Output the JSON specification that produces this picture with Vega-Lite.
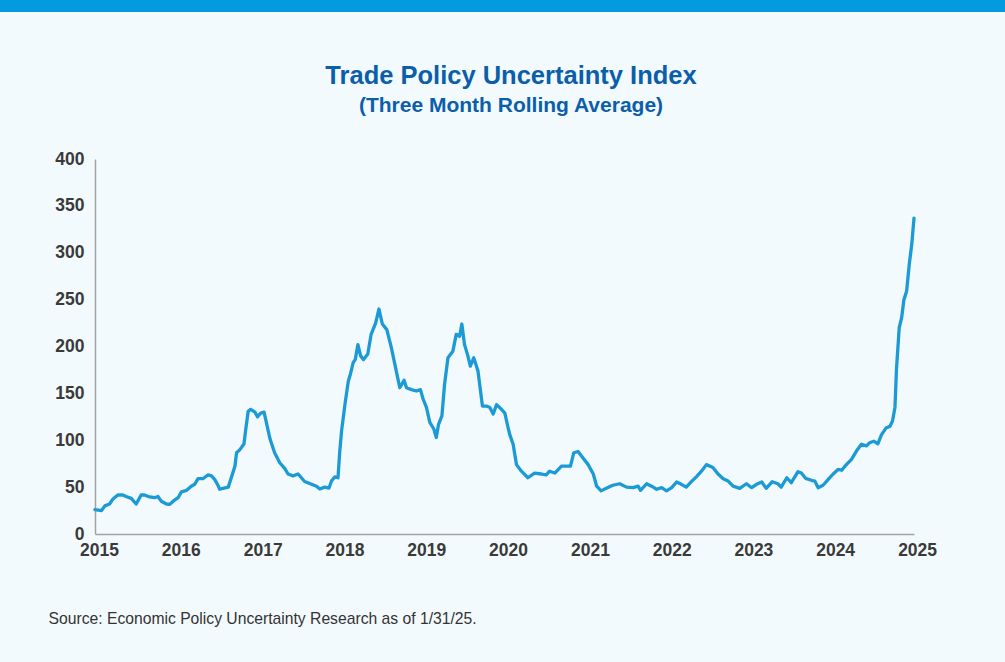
{
  "$schema": "https://vega.github.io/schema/vega-lite/v6.json",
  "background": "#f3fafd",
  "padding": {"left": 0, "top": 0, "right": 0, "bottom": 40},
  "spacing": 51,
  "config": {
    "view": {"stroke": null},
    "font": "Liberation Sans",
    "axis": {"grid": false, "ticks": false, "tickSize": 0, "domainColor": "#a3a3a3", "domainWidth": 1.5, "labelFont": "Liberation Sans", "labelFontWeight": "bold", "labelFontSize": 17.5, "labelColor": "#3a3a3a"}
  },
  "vconcat": [
    {
      "width": 1005,
      "height": 12,
      "view": {"fill": "#039be0", "stroke": null},
      "data": {"values": [{}]},
      "mark": {"type": "text", "text": " "}
    },
    {
      "width": 914,
      "height": 375,
      "title": {
        "text": "Trade Policy Uncertainty Index",
        "subtitle": "(Three Month Rolling Average)",
        "anchor": "middle",
        "dx": 54,
        "font": "Liberation Sans",
        "fontSize": 25.5,
        "fontWeight": "bold",
        "color": "#0b5eaa",
        "subtitleFont": "Liberation Sans",
        "subtitleFontSize": 21,
        "subtitleFontWeight": "bold",
        "subtitleColor": "#0b5eaa",
        "subtitlePadding": 6,
        "offset": 34
      },
      "data": {"values": [
        {"date": "2015-01-01", "v": 26}, {"date": "2015-01-30", "v": 25}, {"date": "2015-02-14", "v": 30}, {"date": "2015-03-07", "v": 32}, {"date": "2015-03-21", "v": 37}, {"date": "2015-04-13", "v": 41.6}, {"date": "2015-05-05", "v": 41.6}, {"date": "2015-05-20", "v": 40}, {"date": "2015-06-12", "v": 38}, {"date": "2015-07-04", "v": 32}, {"date": "2015-07-26", "v": 41.6}, {"date": "2015-08-10", "v": 41.6}, {"date": "2015-09-02", "v": 39.5}, {"date": "2015-09-24", "v": 38.7}, {"date": "2015-10-09", "v": 40}, {"date": "2015-10-24", "v": 35}, {"date": "2015-11-16", "v": 32}, {"date": "2015-12-01", "v": 31.6}, {"date": "2015-12-16", "v": 35},
        {"date": "2016-01-07", "v": 38.7}, {"date": "2016-01-22", "v": 45}, {"date": "2016-02-14", "v": 46.6}, {"date": "2016-03-06", "v": 51}, {"date": "2016-03-21", "v": 53}, {"date": "2016-04-05", "v": 59}, {"date": "2016-04-27", "v": 59}, {"date": "2016-05-19", "v": 63}, {"date": "2016-06-04", "v": 62}, {"date": "2016-06-19", "v": 58}, {"date": "2016-07-03", "v": 52}, {"date": "2016-07-11", "v": 47.7}, {"date": "2016-07-26", "v": 48.7}, {"date": "2016-08-18", "v": 50}, {"date": "2016-09-02", "v": 61}, {"date": "2016-09-17", "v": 72.5}, {"date": "2016-09-24", "v": 86.7}, {"date": "2016-10-09", "v": 90}, {"date": "2016-10-27", "v": 96}, {"date": "2016-11-05", "v": 113}, {"date": "2016-11-15", "v": 131}, {"date": "2016-11-26", "v": 133}, {"date": "2016-12-15", "v": 130}, {"date": "2016-12-27", "v": 125},
        {"date": "2017-01-10", "v": 129}, {"date": "2017-01-25", "v": 130}, {"date": "2017-02-06", "v": 117}, {"date": "2017-02-21", "v": 101}, {"date": "2017-03-13", "v": 86.7}, {"date": "2017-04-05", "v": 76}, {"date": "2017-04-27", "v": 70}, {"date": "2017-05-12", "v": 64}, {"date": "2017-06-03", "v": 62}, {"date": "2017-06-26", "v": 64}, {"date": "2017-07-25", "v": 56}, {"date": "2017-08-25", "v": 53}, {"date": "2017-09-16", "v": 51}, {"date": "2017-10-01", "v": 48}, {"date": "2017-10-23", "v": 50}, {"date": "2017-11-11", "v": 49}, {"date": "2017-11-22", "v": 56.5}, {"date": "2017-12-07", "v": 61}, {"date": "2017-12-21", "v": 60}, {"date": "2017-12-29", "v": 88.5},
        {"date": "2018-01-06", "v": 110}, {"date": "2018-01-21", "v": 138}, {"date": "2018-02-05", "v": 163}, {"date": "2018-02-15", "v": 171}, {"date": "2018-02-27", "v": 183}, {"date": "2018-03-08", "v": 186}, {"date": "2018-03-20", "v": 202}, {"date": "2018-04-01", "v": 190}, {"date": "2018-04-14", "v": 186}, {"date": "2018-05-03", "v": 192}, {"date": "2018-05-18", "v": 213}, {"date": "2018-06-07", "v": 225}, {"date": "2018-06-22", "v": 240}, {"date": "2018-07-07", "v": 224}, {"date": "2018-07-27", "v": 218}, {"date": "2018-08-16", "v": 199}, {"date": "2018-09-01", "v": 181}, {"date": "2018-09-23", "v": 156}, {"date": "2018-10-12", "v": 164}, {"date": "2018-10-23", "v": 156}, {"date": "2018-11-14", "v": 154}, {"date": "2018-12-06", "v": 152.5}, {"date": "2018-12-24", "v": 154},
        {"date": "2019-01-05", "v": 144}, {"date": "2019-01-20", "v": 135}, {"date": "2019-02-04", "v": 119}, {"date": "2019-02-22", "v": 112}, {"date": "2019-03-05", "v": 103}, {"date": "2019-03-15", "v": 117}, {"date": "2019-03-30", "v": 126}, {"date": "2019-04-11", "v": 160}, {"date": "2019-04-26", "v": 188}, {"date": "2019-05-18", "v": 195}, {"date": "2019-06-02", "v": 213}, {"date": "2019-06-17", "v": 211}, {"date": "2019-06-27", "v": 224}, {"date": "2019-07-09", "v": 202}, {"date": "2019-07-24", "v": 190}, {"date": "2019-08-04", "v": 179}, {"date": "2019-08-19", "v": 188}, {"date": "2019-09-07", "v": 174}, {"date": "2019-09-27", "v": 136.5}, {"date": "2019-10-15", "v": 136.5}, {"date": "2019-10-30", "v": 135}, {"date": "2019-11-14", "v": 128}, {"date": "2019-11-29", "v": 138}, {"date": "2019-12-21", "v": 133},
        {"date": "2020-01-05", "v": 129}, {"date": "2020-01-20", "v": 113}, {"date": "2020-01-27", "v": 106}, {"date": "2020-02-11", "v": 95.7}, {"date": "2020-02-26", "v": 74}, {"date": "2020-03-19", "v": 67}, {"date": "2020-04-17", "v": 60}, {"date": "2020-05-17", "v": 65}, {"date": "2020-06-16", "v": 64}, {"date": "2020-07-08", "v": 63}, {"date": "2020-07-23", "v": 67}, {"date": "2020-08-15", "v": 65}, {"date": "2020-09-14", "v": 72.5}, {"date": "2020-10-06", "v": 72.5}, {"date": "2020-10-24", "v": 72.5}, {"date": "2020-11-08", "v": 86.7}, {"date": "2020-11-27", "v": 88}, {"date": "2020-12-19", "v": 81},
        {"date": "2021-01-11", "v": 74}, {"date": "2021-02-03", "v": 64}, {"date": "2021-02-18", "v": 51}, {"date": "2021-03-10", "v": 46}, {"date": "2021-04-02", "v": 48.7}, {"date": "2021-05-01", "v": 52}, {"date": "2021-06-01", "v": 53.6}, {"date": "2021-07-01", "v": 50}, {"date": "2021-07-31", "v": 49.4}, {"date": "2021-08-22", "v": 51}, {"date": "2021-09-02", "v": 46.6}, {"date": "2021-09-29", "v": 53.6}, {"date": "2021-10-21", "v": 51}, {"date": "2021-11-13", "v": 47.7}, {"date": "2021-12-05", "v": 49.4}, {"date": "2021-12-27", "v": 46},
        {"date": "2022-01-19", "v": 49.4}, {"date": "2022-02-10", "v": 55.5}, {"date": "2022-03-03", "v": 53}, {"date": "2022-03-25", "v": 50}, {"date": "2022-04-17", "v": 55.8}, {"date": "2022-05-09", "v": 61}, {"date": "2022-06-01", "v": 67}, {"date": "2022-06-23", "v": 74}, {"date": "2022-07-22", "v": 71}, {"date": "2022-08-14", "v": 64}, {"date": "2022-09-06", "v": 59}, {"date": "2022-09-28", "v": 56.5}, {"date": "2022-10-20", "v": 51}, {"date": "2022-11-19", "v": 48.7}, {"date": "2022-12-19", "v": 53.6},
        {"date": "2023-01-11", "v": 49.4}, {"date": "2023-02-02", "v": 53}, {"date": "2023-02-25", "v": 55.5}, {"date": "2023-03-17", "v": 48.7}, {"date": "2023-04-13", "v": 55.8}, {"date": "2023-05-08", "v": 53.6}, {"date": "2023-05-23", "v": 50}, {"date": "2023-06-17", "v": 60}, {"date": "2023-07-07", "v": 54.7}, {"date": "2023-08-06", "v": 66.5}, {"date": "2023-08-21", "v": 65}, {"date": "2023-09-09", "v": 59.4}, {"date": "2023-10-05", "v": 57.3}, {"date": "2023-10-20", "v": 56.5}, {"date": "2023-11-04", "v": 49.4}, {"date": "2023-11-26", "v": 52}, {"date": "2023-12-18", "v": 58},
        {"date": "2024-01-10", "v": 64}, {"date": "2024-02-02", "v": 69}, {"date": "2024-02-17", "v": 68}, {"date": "2024-03-09", "v": 74}, {"date": "2024-04-01", "v": 79.7}, {"date": "2024-04-23", "v": 88.5}, {"date": "2024-05-15", "v": 95.7}, {"date": "2024-06-07", "v": 94}, {"date": "2024-06-21", "v": 97.4}, {"date": "2024-07-09", "v": 99}, {"date": "2024-07-28", "v": 96.3}, {"date": "2024-08-13", "v": 106}, {"date": "2024-09-02", "v": 113}, {"date": "2024-09-20", "v": 115}, {"date": "2024-10-01", "v": 120.5}, {"date": "2024-10-12", "v": 135}, {"date": "2024-10-19", "v": 177}, {"date": "2024-10-31", "v": 220}, {"date": "2024-11-11", "v": 231}, {"date": "2024-11-21", "v": 250}, {"date": "2024-12-03", "v": 259}, {"date": "2024-12-15", "v": 288}, {"date": "2024-12-26", "v": 309}, {"date": "2025-01-05", "v": 337}
      ]},
      "mark": {"type": "line", "color": "#1c9ad6", "strokeWidth": 3.3, "strokeJoin": "round", "strokeCap": "round"},
      "encoding": {
        "x": {
          "field": "date", "type": "temporal",
          "scale": {"type": "utc", "nice": false, "range": [95, 914], "domain": [{"year": 2015, "month": 1, "date": 1, "utc": true}, {"year": 2025, "month": 1, "date": 5, "utc": true}]},
          "axis": {
            "format": "%Y", "tickCount": {"interval": "year", "step": 1},
            "labelPadding": 7, "labelOffset": 4, "labelFlush": false, "labelOverlap": false, "labelBound": false,
            "title": "Source: Economic Policy Uncertainty Research as of 1/31/25.",
            "titleFont": "Liberation Sans", "titleFontWeight": "normal", "titleFontSize": 15.7, "titleColor": "#333333",
            "titleAnchor": "start", "titleAlign": "left", "titleBaseline": "middle", "titleX": 48, "titleY": 84
          }
        },
        "y": {
          "field": "v", "type": "quantitative",
          "scale": {"domain": [0, 400], "nice": false},
          "axis": {"title": null, "values": [0, 50, 100, 150, 200, 250, 300, 350, 400], "labelPadding": 11, "offset": -95, "minExtent": 0, "maxExtent": 0}
        }
      }
    }
  ]
}
